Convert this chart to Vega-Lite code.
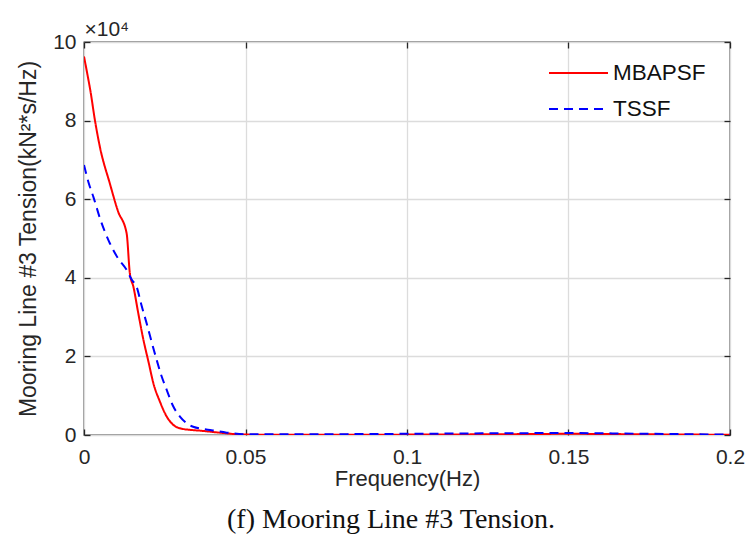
{
  "$schema": "https://vega.github.io/schema/vega-lite/v6.json",
  "width": 646,
  "height": 393,
  "autosize": "none",
  "padding": {"left": 84, "top": 42, "right": 18, "bottom": 115},
  "background": "white",
  "config": {
    "font": "Liberation Sans",
    "view": {"stroke": "#262626", "strokeWidth": 1.3},
    "axis": {
      "labelFont": "Liberation Sans",
      "titleFont": "Liberation Sans",
      "labelFontSize": 21,
      "titleFontSize": 22,
      "labelColor": "#262626",
      "titleColor": "#262626",
      "titleFontWeight": "normal",
      "domain": false,
      "tickColor": "#262626",
      "tickWidth": 1.3,
      "tickSize": -6,
      "gridColor": "#dcdcdc",
      "gridWidth": 1.3
    }
  },
  "title": {
    "text": "(f) Mooring Line #3 Tension.",
    "orient": "bottom",
    "anchor": "middle",
    "font": "Liberation Serif",
    "fontSize": 28,
    "fontWeight": "normal",
    "color": "#111111",
    "offset": 17,
    "dx": -16
  },
  "data": {
    "values": [
      {"f": 0.0, "v": 96300, "s": "MBAPSF"},
      {"f": 0.001, "v": 92000, "s": "MBAPSF"},
      {"f": 0.002, "v": 87500, "s": "MBAPSF"},
      {"f": 0.0034, "v": 80000, "s": "MBAPSF"},
      {"f": 0.005, "v": 73000, "s": "MBAPSF"},
      {"f": 0.008, "v": 64000, "s": "MBAPSF"},
      {"f": 0.0105, "v": 57000, "s": "MBAPSF"},
      {"f": 0.0132, "v": 51300, "s": "MBAPSF"},
      {"f": 0.0142, "v": 41100, "s": "MBAPSF"},
      {"f": 0.0153, "v": 37700, "s": "MBAPSF"},
      {"f": 0.0168, "v": 31000, "s": "MBAPSF"},
      {"f": 0.0184, "v": 24200, "s": "MBAPSF"},
      {"f": 0.02, "v": 18500, "s": "MBAPSF"},
      {"f": 0.0215, "v": 13100, "s": "MBAPSF"},
      {"f": 0.0235, "v": 8500, "s": "MBAPSF"},
      {"f": 0.0256, "v": 4700, "s": "MBAPSF"},
      {"f": 0.0275, "v": 2700, "s": "MBAPSF"},
      {"f": 0.0297, "v": 1700, "s": "MBAPSF"},
      {"f": 0.033, "v": 1300, "s": "MBAPSF"},
      {"f": 0.036, "v": 1100, "s": "MBAPSF"},
      {"f": 0.042, "v": 600, "s": "MBAPSF"},
      {"f": 0.05, "v": 100, "s": "MBAPSF"},
      {"f": 0.07, "v": 50, "s": "MBAPSF"},
      {"f": 0.1, "v": 100, "s": "MBAPSF"},
      {"f": 0.13, "v": 200, "s": "MBAPSF"},
      {"f": 0.15, "v": 300, "s": "MBAPSF"},
      {"f": 0.17, "v": 200, "s": "MBAPSF"},
      {"f": 0.2, "v": 50, "s": "MBAPSF"},
      {"f": 0.0, "v": 68700, "s": "TSSF"},
      {"f": 0.0015, "v": 64000, "s": "TSSF"},
      {"f": 0.0029, "v": 60600, "s": "TSSF"},
      {"f": 0.005, "v": 55000, "s": "TSSF"},
      {"f": 0.008, "v": 48800, "s": "TSSF"},
      {"f": 0.0105, "v": 45000, "s": "TSSF"},
      {"f": 0.0132, "v": 42000, "s": "TSSF"},
      {"f": 0.0148, "v": 39500, "s": "TSSF"},
      {"f": 0.0163, "v": 37700, "s": "TSSF"},
      {"f": 0.0178, "v": 33000, "s": "TSSF"},
      {"f": 0.0194, "v": 28400, "s": "TSSF"},
      {"f": 0.021, "v": 23500, "s": "TSSF"},
      {"f": 0.0225, "v": 19100, "s": "TSSF"},
      {"f": 0.024, "v": 15000, "s": "TSSF"},
      {"f": 0.0256, "v": 11500, "s": "TSSF"},
      {"f": 0.0275, "v": 7500, "s": "TSSF"},
      {"f": 0.0297, "v": 4700, "s": "TSSF"},
      {"f": 0.0318, "v": 3000, "s": "TSSF"},
      {"f": 0.0338, "v": 2100, "s": "TSSF"},
      {"f": 0.039, "v": 1300, "s": "TSSF"},
      {"f": 0.0442, "v": 600, "s": "TSSF"},
      {"f": 0.05, "v": 200, "s": "TSSF"},
      {"f": 0.07, "v": 200, "s": "TSSF"},
      {"f": 0.1, "v": 300, "s": "TSSF"},
      {"f": 0.13, "v": 450, "s": "TSSF"},
      {"f": 0.15, "v": 500, "s": "TSSF"},
      {"f": 0.17, "v": 350, "s": "TSSF"},
      {"f": 0.2, "v": 100, "s": "TSSF"}
    ]
  },
  "resolve": {"axis": {"x": "independent", "y": "independent"}},
  "layer": [
    {
      "mark": {"type": "line", "strokeWidth": 2, "interpolate": "monotone", "clip": true},
      "encoding": {
        "x": {
          "field": "f", "type": "quantitative",
          "scale": {"domain": [0, 0.2], "nice": false},
          "axis": {
            "values": [0, 0.05, 0.1, 0.15, 0.2],
            "labelExpr": "format(datum.value, '~g')",
            "title": "Frequency(Hz)",
            "labelPadding": 17,
            "titlePadding": 1,
            "labelFlush": false
          }
        },
        "y": {
          "field": "v", "type": "quantitative",
          "scale": {"domain": [0, 100000], "nice": false},
          "axis": {
            "values": [0, 20000, 40000, 60000, 80000, 100000],
            "labelExpr": "format(datum.value / 10000, '~g')",
            "title": "Mooring Line #3 Tension(kN²*s/Hz)",
            "titleFontSize": 23,
            "labelPadding": 14,
            "titlePadding": 12
          }
        },
        "color": {
          "field": "s", "type": "nominal",
          "scale": {"domain": ["MBAPSF", "TSSF"], "range": ["#ff0000", "#0000ff"]},
          "legend": {
            "title": null,
            "orient": "none",
            "legendX": 464,
            "legendY": 20,
            "symbolType": "stroke",
            "symbolSize": 3481,
            "symbolStrokeWidth": 2,
            "labelFontSize": 22.5,
            "labelFont": "Liberation Sans",
            "labelColor": "#111111",
            "clipHeight": 22,
            "rowPadding": 13,
            "labelOffset": 4,
            "symbolOffset": 0
          }
        },
        "strokeDash": {
          "field": "s", "type": "nominal",
          "scale": {"domain": ["MBAPSF", "TSSF"], "range": [[1, 0], [9, 6]]},
          "legend": null
        }
      }
    },
    {
      "mark": {"type": "line", "opacity": 0},
      "encoding": {
        "x": {
          "field": "f", "type": "quantitative",
          "axis": {
            "orient": "top",
            "values": [0, 0.05, 0.1, 0.15, 0.2],
            "labels": false,
            "grid": false,
            "title": "×10⁴",
            "titleAnchor": "start",
            "titleAlign": "left",
            "titleFontSize": 21,
            "titlePadding": 2
          }
        },
        "y": {
          "field": "v", "type": "quantitative",
          "axis": {
            "orient": "right",
            "values": [0, 20000, 40000, 60000, 80000, 100000],
            "labels": false,
            "grid": false,
            "title": null
          }
        },
        "detail": {"field": "s"}
      }
    }
  ]
}
